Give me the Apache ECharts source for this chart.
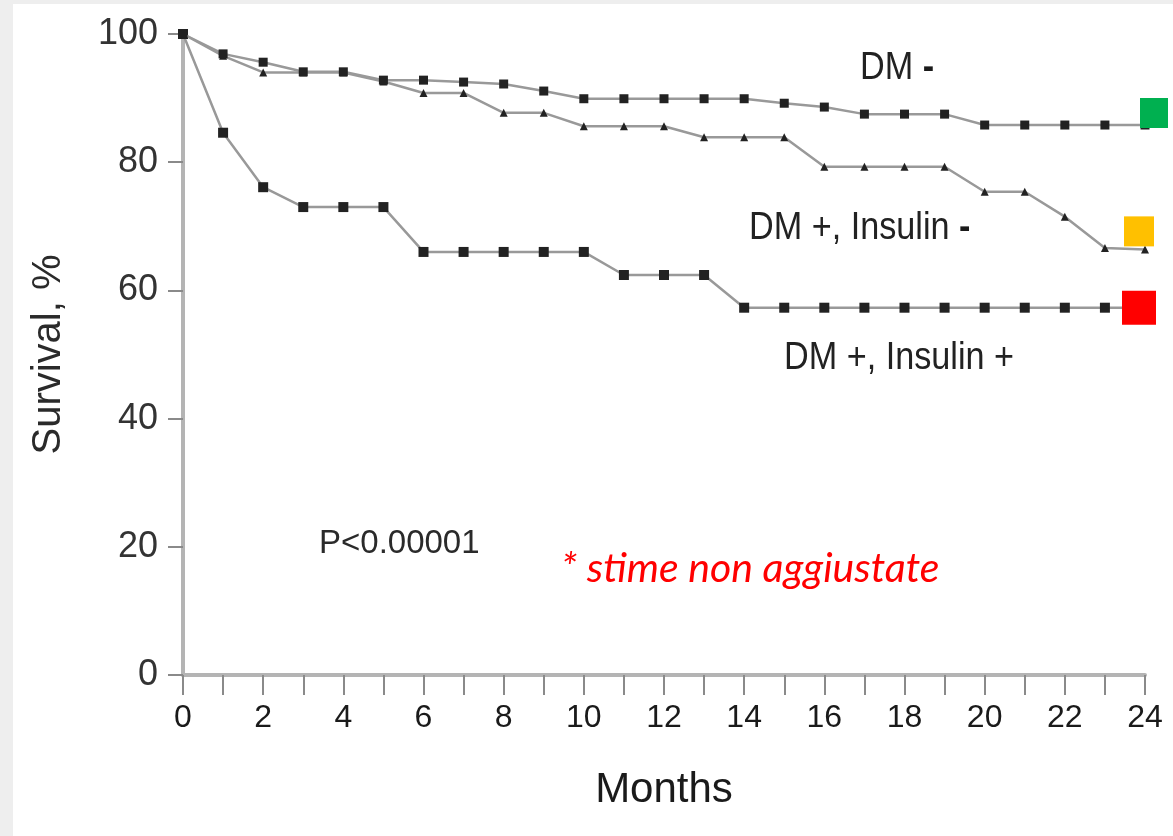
<!DOCTYPE html>
<html>
<head>
<meta charset="utf-8">
<script src="https://cdn.jsdelivr.net/npm/echarts@6/dist/echarts.min.js"></script>
<style>
  html, body { margin: 0; padding: 0; background: #eeeeee; }
  #chart { width: 1173px; height: 836px; }
</style>
</head>
<body>
<div id="chart"></div>
<script>
// months 0..24
var months = [0,1,2,3,4,5,6,7,8,9,10,11,12,13,14,15,16,17,18,19,20,21,22,23,24];
// survival %
var dmNeg = [100, 96.9, 95.6, 94.1, 94.1, 92.8, 92.8, 92.5, 92.2, 91.1,
             89.9, 89.9, 89.9, 89.9, 89.9, 89.2, 88.6, 87.5, 87.5, 87.5,
             85.8, 85.8, 85.8, 85.8, 85.8];
var dmPosInsNeg = [100, 96.6, 94.0, 94.0, 94.0, 92.6, 90.8, 90.8, 87.7, 87.7,
                   85.6, 85.6, 85.6, 83.9, 83.9, 83.9, 79.3, 79.3, 79.3, 79.3,
                   75.4, 75.4, 71.5, 66.6, 66.4];
var dmPosInsPos = [100, 84.6, 76.1, 73.0, 73.0, 73.0, 66.0, 66.0, 66.0, 66.0,
                   66.0, 62.4, 62.4, 62.4, 57.3, 57.3, 57.3, 57.3, 57.3, 57.3,
                   57.3, 57.3, 57.3, 57.3, 57.3];
var seriesNames = ['DM -', 'DM +, Insulin -', 'DM +, Insulin +'];
var yTicks = [0, 20, 40, 60, 80, 100];

function pairs(vals) {
  return months.map(function (m, i) { return [m, vals[i]]; });
}

var chart = echarts.init(document.getElementById('chart'));
var lineStyle = {color: '#999999', width: 2.5};
var axisFont = '"Liberation Sans", Arial, sans-serif';

// curve labels, slightly condensed like the original
function label(txt, x, y) {
  return {
    type: 'text', x: x, y: y, scaleX: 0.9,
    style: {
      text: txt, verticalAlign: 'top',
      rich: {
        t: {font: '38px ' + axisFont, fill: '#222222'},
        d: {font: 'bold 38px ' + axisFont, fill: '#1a1a1a'}
      }
    }
  };
}

chart.setOption({
  backgroundColor: '#eeeeee',
  animation: false,
  graphic: [
    {type: 'rect', left: 13, top: 4, z: -10, shape: {width: 1160, height: 832}, style: {fill: '#ffffff'}},
    label('{t|DM }{d|-}', 860, 50),
    label('{t|DM +, Insulin }{d|-}', 749, 210),
    label('{t|DM +, Insulin +}', 784, 340),
    {type: 'text', x: 319, y: 527, style: {text: 'P<0.00001', verticalAlign: 'top', font: '33px ' + axisFont, fill: '#2a2a2a'}},
    {type: 'text', x: 561, y: 548, style: {text: '* stime non aggiustate', verticalAlign: 'top', font: 'italic 41px Lato, sans-serif', fill: '#ff0000'}}
  ],
  grid: {left: 183, right: 28, top: 34, bottom: 161},
  xAxis: {
    type: 'value', min: 0, max: 24, interval: 1,
    name: 'Months', nameLocation: 'middle', nameGap: 94,
    nameTextStyle: {fontFamily: axisFont, fontSize: 42, color: '#1a1a1a'},
    axisLine: {lineStyle: {color: '#b4b4b4', width: 4}},
    axisTick: {length: 20, lineStyle: {color: '#8a8a8a', width: 2}},
    axisLabel: {
      fontFamily: axisFont, fontSize: 32, color: '#1a1a1a', margin: 27,
      formatter: function (v) { return v % 2 === 0 ? String(v) : ''; }
    },
    splitLine: {show: false}
  },
  yAxis: {
    type: 'value', min: yTicks[0], max: yTicks[yTicks.length - 1], interval: 20,
    name: 'Survival, %', nameLocation: 'middle', nameGap: 114, nameRotate: 90,
    nameTextStyle: {fontFamily: axisFont, fontSize: 40, color: '#2a2a2a'},
    axisLine: {show: true, lineStyle: {color: '#b4b4b4', width: 4}},
    axisTick: {show: true, length: 15, lineStyle: {color: '#8a8a8a', width: 2}},
    axisLabel: {fontFamily: axisFont, fontSize: 36, color: '#333333', margin: 25},
    splitLine: {show: false}
  },
  series: [
    {
      name: seriesNames[0], type: 'line', data: pairs(dmNeg),
      symbol: 'rect', symbolSize: 9, itemStyle: {color: '#222222'}, lineStyle: lineStyle, z: 3,
      markPoint: {
        symbol: 'rect', symbolSize: [28, 30], symbolOffset: [9, -12], silent: true,
        label: {show: false}, itemStyle: {color: '#00b050'},
        data: [{coord: [months[24], dmNeg[24]]}]
      }
    },
    {
      name: seriesNames[1], type: 'line', data: pairs(dmPosInsNeg),
      symbol: 'triangle', symbolSize: 8, itemStyle: {color: '#222222'}, lineStyle: lineStyle, z: 2,
      markPoint: {
        symbol: 'rect', symbolSize: [30, 30], symbolOffset: [-6, -18], silent: true,
        label: {show: false}, itemStyle: {color: '#ffc000'},
        data: [{coord: [months[24], dmPosInsNeg[24]]}]
      }
    },
    {
      name: seriesNames[2], type: 'line', data: pairs(dmPosInsPos),
      symbol: 'rect', symbolSize: 10, itemStyle: {color: '#222222'}, lineStyle: lineStyle, z: 2,
      markPoint: {
        symbol: 'rect', symbolSize: [34, 34], symbolOffset: [-6, 0], silent: true,
        label: {show: false}, itemStyle: {color: '#ff0000'},
        data: [{coord: [months[24], dmPosInsPos[24]]}]
      }
    }
  ]
});
</script>
</body>
</html>
